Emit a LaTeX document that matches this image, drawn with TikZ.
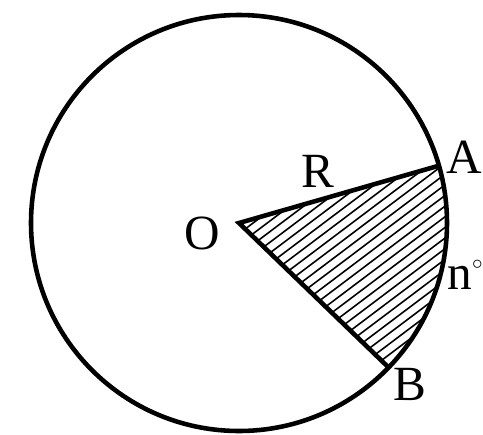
\documentclass[tikz,border=0pt]{standalone}
\usepackage{fontspec}
\setmainfont{Liberation Serif}
\usetikzlibrary{calc}

\begin{document}
\begin{tikzpicture}[x=0.02cm,y=0.02cm,line width=2.6pt,
  lbl/.style={font=\fontsize{28}{30}\selectfont,inner sep=0pt}]
\useasboundingbox (0,0) rectangle (483,434);
\coordinate (O) at (239,211);
\coordinate (A) at ($(O)+(16:208)$);
\coordinate (B) at ($(O)+(-44:208)$);
% hatched sector
\begin{scope}
\clip (O) -- (A) arc (16:-44:208) -- cycle;
\foreach \k in {-30,...,30}
  \draw[line width=0.9pt,shift={(O)},rotate=37] (-300,\k*8.5) -- (300,\k*8.5);
\end{scope}
\draw (O) circle (208);
\draw[line join=miter] (A) -- (O) -- (B);
\node[lbl] (labO) at (202,201) {O};
\node[lbl] (labA) at (464,277) {A};
\node[lbl] (labB) at (410,50) {B};
\node[lbl] (labR) at (318,263) {R};
\node[lbl] (labn) at (465,159) {n\raisebox{0.9ex}{\fontsize{12}{12}\selectfont$\circ$}};
\end{tikzpicture}
\end{document}
